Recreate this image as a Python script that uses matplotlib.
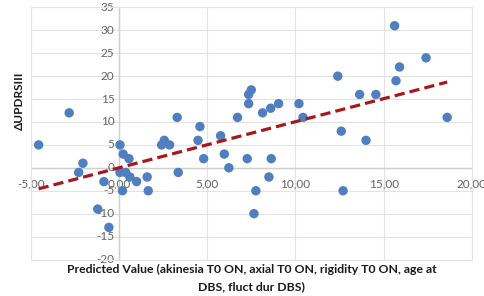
import matplotlib
matplotlib.use("Agg")
import matplotlib.pyplot as plt
import numpy as np

predicted = [-4.55, -2.82, -2.04, -2.28, -0.85, -1.2, -0.57,
             0.06, 0.24, 0.57, 0.06, 0.38, 0.62, 1.0, 0.2,
             1.6, 1.66, 2.42, 2.57, 2.87, 3.3, 3.36,
             4.48, 4.59, 4.8, 5.76, 5.97, 6.23, 6.72, 7.27,
             7.35, 7.5, 7.35, 7.76, 7.65, 8.14, 8.6, 8.63, 8.5, 9.05,
             10.2, 10.43, 12.4, 12.6, 12.7, 13.64, 14.0, 14.56,
             15.62, 15.7, 15.9, 17.4, 18.6]
delta_updrs = [5, 12, 1, -1, -3, -9, -13,
               5, 3, 2, -1, -1, -2, -3, -5,
               -2, -5, 5, 6, 5, 11, -1,
               6, 9, 2, 7, 3, 0, 11, 2,
               16, 17, 14, -5, -10, 12, 13, 2, -2, 14,
               14, 11, 20, 8, -5, 16, 6, 16,
               31, 19, 22, 24, 11]
trend_slope = 1.006
trend_intercept = 0.0

x_ticks = [-5, 0, 5, 10, 15, 20]
x_tick_labels = ["-5,00", "0,00", "5,00", "10,00", "15,00", "20,00"]
y_ticks = list(range(-20, 40, 5))

plt.rcParams['font.family'] = ['Lato', 'DejaVu Sans']

fig = plt.figure(figsize=(4.84, 2.96), dpi=100)
ax = fig.add_axes([0.0634, 0.1233, 0.9116, 0.8517])
ax.set_xlim(-5, 20)
ax.set_ylim(-20, 35)

grid_c = "#e3e3e3"
for yv in y_ticks:
    ax.axhline(yv, color=grid_c, lw=0.8, zorder=0)
for xv in x_ticks:
    ax.axvline(xv, color=grid_c, lw=0.8, zorder=0)
for s in ax.spines.values():
    s.set_color(grid_c)
    s.set_linewidth(0.8)

# axis lines crossing at zero
ax.axhline(0, color="#cfcfcf", lw=1.0, zorder=1)
ax.axvline(0, color="#cfcfcf", lw=1.0, zorder=1)

ax.set_xticks([])
ax.set_yticks([])

tick_c = "#636363"
for yv in y_ticks:
    ax.text(-0.25, yv, str(yv), ha="right", va="center", fontsize=8.5, color=tick_c, zorder=2)
for xv, lab in zip(x_ticks, x_tick_labels):
    ax.text(xv, -3.5, lab, ha="center", va="center", fontsize=8.5, color=tick_c, zorder=2)

ax.scatter(predicted, delta_updrs, s=46, color="#4f7fbf", edgecolors="none", zorder=3)

xmin, xmax = min(predicted), max(predicted)
xs = np.array([xmin, xmax])
ax.plot(xs, trend_slope * xs + trend_intercept, color="#a8171c", lw=2.3,
        linestyle=(0, (3.2, 1.6)), zorder=4)

fig.text(0.04, 0.66, "ΔUPDRSIII", rotation=90, ha="center", va="center",
         fontsize=8.5, fontweight="bold", color="#1a1a1a")
fig.text(0.52, 0.088, "Predicted Value (akinesia T0 ON, axial T0 ON, rigidity T0 ON, age at",
         ha="center", va="center", fontsize=8.8, fontweight="bold", color="#1a1a1a")
fig.text(0.52, 0.03, "DBS, fluct dur DBS)",
         ha="center", va="center", fontsize=8.8, fontweight="bold", color="#1a1a1a")

fig.savefig("out.png", dpi=100, facecolor="white")
